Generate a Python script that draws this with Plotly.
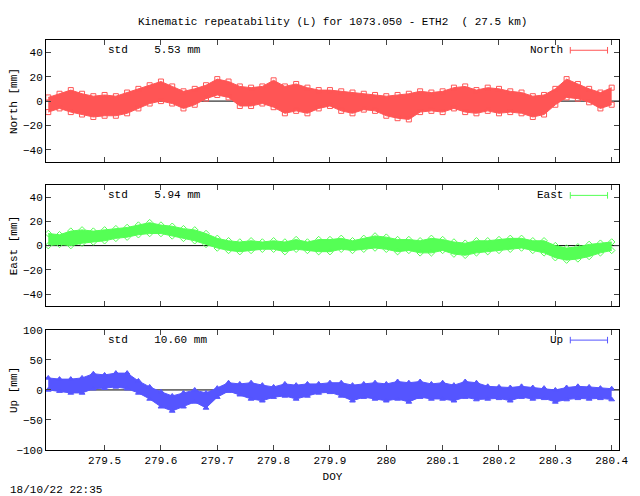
import plotly.graph_objects as go

doy = [279.40, 279.42, 279.44, 279.46, 279.48, 279.50, 279.52, 279.54, 279.56, 279.58,
       279.60, 279.62, 279.64, 279.66, 279.68, 279.70, 279.72, 279.74, 279.76, 279.78,
       279.80, 279.82, 279.84, 279.86, 279.88, 279.90, 279.92, 279.94, 279.96, 279.98,
       280.00, 280.02, 280.04, 280.06, 280.08, 280.10, 280.12, 280.14, 280.16, 280.18,
       280.20, 280.22, 280.24, 280.26, 280.28, 280.30, 280.32, 280.34, 280.36, 280.38,
       280.40]

north_lo = [-9, -6, -9, -11, -13, -12, -12, -10, -6, -2, 0, -2, -6, -3, 2, 5, 3, -4, -4, -2,
            -5, -10, -8, -10, -6, -4, -8, -10, -7, -8, -12, -14, -15, -9, -8, -9, -6, -9, -10, -8,
            -10, -9, -10, -13, -11, -3, 3, 2, -1, -6, -3]
north_hi = [3, 6, 9, 6, 4, 5, 4, 7, 10, 13, 16, 12, 8, 10, 13, 18, 16, 12, 11, 12,
            17, 12, 14, 11, 9, 9, 8, 7, 6, 5, 4, 5, 6, 8, 7, 8, 11, 12, 9, 11,
            10, 8, 7, 4, 5, 10, 18, 14, 10, 7, 11]
east_lo = [0, 1, 0, 2, 3, 4, 6, 7, 9, 10, 10, 8, 6, 4, 1, -2, -4, -5, -4, -3,
           -3, -5, -3, -4, -5, -5, -3, -4, -3, -2, -3, -5, -4, -6, -6, -4, -7, -8, -6, -5,
           -4, -3, -2, -4, -6, -10, -12, -11, -9, -6, -4]
east_hi = [10, 9, 12, 13, 12, 13, 14, 15, 17, 19, 17, 16, 14, 13, 10, 6, 4, 3, 4, 3,
           4, 3, 5, 3, 5, 5, 6, 4, 6, 8, 7, 5, 5, 4, 6, 5, 3, 2, 4, 4,
           5, 6, 6, 4, 4, 0, -2, -1, 1, 2, 3]
up_lo = [0, -2, -5, -5, 2, 3, 5, 2, -5, -15, -28, -35, -28, -20, -30, -12, -2, -8, -15, -18,
         -12, -10, -15, -10, -5, -4, -10, -18, -12, -15, -18, -15, -20, -12, -15, -15, -18, -12, -16, -15,
         -14, -18, -12, -15, -14, -20, -16, -14, -15, -14, -16]
up_hi = [20, 18, 18, 20, 27, 25, 28, 28, 15, 5, -3, -10, -5, 0, -5, 3, 12, 10, 12, 8,
         5, 10, 8, 10, 10, 12, 12, 8, 10, 12, 10, 14, 12, 14, 10, 12, 8, 14, 12, 6,
         5, 4, 6, 4, 3, 0, 4, 6, 5, 3, 2]

panels = [
    ("North", north_lo, north_hi, "#ff5555", "square-open", "5.53", [-50, 50], [-40, -20, 0, 20, 40], [0.702, 1.0]),
    ("East", east_lo, east_hi, "#55ff55", "diamond-open", "5.94", [-50, 50], [-40, -20, 0, 20, 40], [0.351, 0.646]),
    ("Up", up_lo, up_hi, "#5555ff", "triangle-up", "10.60", [-100, 100], [-100, -50, 0, 50, 100], [0.0, 0.293]),
]

FONT = dict(family="Liberation Mono", size=11, color="black")
fig = go.Figure()
xr = [279.396, 280.413]

for i, (name, lo, hi, col, sym, std, yr, yt, dom) in enumerate(panels):
    n = i + 1
    xa = "x" if n == 1 else f"x{n}"
    ya = "y" if n == 1 else f"y{n}"
    fig.add_trace(go.Scatter(x=doy, y=lo, mode="lines", line=dict(color=col, width=1),
                             xaxis=xa, yaxis=ya, showlegend=False, hoverinfo="skip"))
    fig.add_trace(go.Scatter(x=doy, y=hi, mode="lines", line=dict(color=col, width=1),
                             fill="tonexty", fillcolor=col, xaxis=xa, yaxis=ya, showlegend=False))
    for arr in (lo, hi):
        fig.add_trace(go.Scatter(x=doy, y=arr, mode="markers",
                                 marker=dict(symbol=sym, size=5, color=col, line=dict(color=col, width=1)),
                                 xaxis=xa, yaxis=ya, showlegend=False))
    fig.add_shape(type="line", xref=xa, yref=ya, x0=xr[0], x1=xr[1], y0=0, y1=0,
                  line=dict(color="black", width=1), layer="below")
    axkw = dict(range=xr, showline=True, mirror="ticks", linecolor="black", ticks="inside",
                ticklen=5, showgrid=False, zeroline=False, tickfont=FONT, automargin=False,
                tickvals=[279.5, 279.6, 279.7, 279.8, 279.9, 280, 280.1, 280.2, 280.3, 280.4],
                ticktext=["279.5", "279.6", "279.7", "279.8", "279.9", "280", "280.1", "280.2", "280.3", "280.4"],
                showticklabels=(n == 3), anchor=ya)
    if n == 3:
        axkw["title"] = dict(text="DOY", font=FONT, standoff=6)
    else:
        axkw["matches"] = "x3"
    fig.update_layout(**{("xaxis" if n == 1 else f"xaxis{n}"): axkw})
    fig.update_layout(**{("yaxis" if n == 1 else f"yaxis{n}"): dict(
        range=yr, tickvals=yt, domain=dom, showline=True, mirror="ticks", linecolor="black",
        ticks="inside", ticklen=5, showgrid=False, zeroline=False, tickfont=FONT, anchor=xa,
        automargin=False, title=dict(text=f"{name} [mm]", font=FONT, standoff=4))})
    top = dom[1]
    ly = top - 0.025
    fig.add_annotation(xref="paper", yref="paper", x=0.105, y=ly, xanchor="left", yanchor="middle",
                       text=f"std    {std} mm", showarrow=False, font=FONT)
    fig.add_annotation(xref="paper", yref="paper", x=0.905, y=ly, xanchor="right", yanchor="middle",
                       text=name, showarrow=False, font=FONT)
    fig.add_shape(type="line", xref="paper", yref="paper", x0=0.915, x1=0.98, y0=ly, y1=ly,
                  line=dict(color=col, width=1))
    for xe in (0.915, 0.98):
        fig.add_shape(type="line", xref="paper", yref="paper", x0=xe, x1=xe, y0=ly - 0.008, y1=ly + 0.008,
                      line=dict(color=col, width=1))

fig.add_annotation(xref="paper", yref="paper", x=0.5, y=1.044, xanchor="center", yanchor="middle",
                   text="Kinematic repeatability (L) for 1073.050 - ETH2  ( 27.5 km)",
                   showarrow=False, font=FONT)
fig.add_annotation(xref="paper", yref="paper", x=-0.066, y=-0.098, xanchor="left", yanchor="middle",
                   text="18/10/22 22:35", showarrow=False, font=FONT)

fig.update_layout(width=640, height=496, margin=dict(l=38, r=29, t=32, b=54),
                  plot_bgcolor="white", paper_bgcolor="white", showlegend=False)
fig.write_html("out.html")
